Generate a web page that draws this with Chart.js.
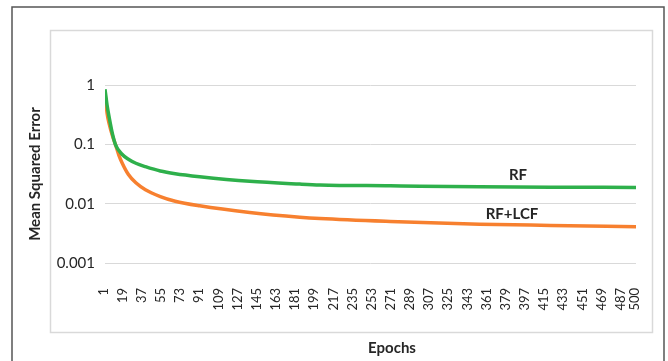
<!DOCTYPE html>
<html>
<head>
<meta charset="utf-8">
<script src="https://cdn.jsdelivr.net/npm/chart.js@4.4.1/dist/chart.umd.min.js"></script>
<style>
    html, body { margin: 0; padding: 0; background: #fff; }
    #wrap { width: 668px; height: 361px; }
</style>
</head>
<body>
<div id="wrap"><canvas id="mse-chart" width="668" height="361"></canvas></div>
<script>
// x tick labels (epochs) and y ticks (log scale)
const epochTicks = [1, 19, 37, 55, 73, 91, 109, 127, 145, 163, 181, 199, 217, 235, 253,
    271, 289, 307, 325, 343, 361, 379, 397, 415, 433, 451, 469, 487, 500];
const yTicks = [0.001, 0.01, 0.1, 1];

// RF series
const rfEpochs = [1, 3, 5, 8, 11, 17, 23, 30, 39, 53, 67, 90, 137, 184, 203, 269, 297, 353, 420, 500];
const rfValues = [0.85, 0.45, 0.28, 0.15, 0.097, 0.068, 0.056, 0.048, 0.042, 0.0355, 0.032, 0.0285,
    0.0238, 0.0214, 0.0207, 0.0200, 0.0197, 0.0193, 0.0190, 0.0188];

// RF+LCF series
const lcfEpochs = [1, 3, 5, 8, 11, 14, 17, 23, 30, 39, 53, 67, 90, 137, 184, 203, 269, 353, 420, 500];
const lcfValues = [0.72, 0.33, 0.22, 0.14, 0.097, 0.066, 0.049, 0.031, 0.0225, 0.0172, 0.0132, 0.011,
    0.0092, 0.0071, 0.0059, 0.0056, 0.0050, 0.0045, 0.0043, 0.0041];

const FONT = 'Lato, "Open Sans", sans-serif';
const TEXT = '#262626';

function toPoints(xs, ys) {
    return xs.map((x, i) => ({ x: x, y: ys[i] }));
}

const framePlugin = {
    id: 'frames',
    beforeDraw: (chart) => {
        const ctx = chart.ctx;
        ctx.save();
        ctx.fillStyle = '#fff';
        ctx.fillRect(0, 0, chart.width, chart.height);
        // outer border
        ctx.strokeStyle = '#555';
        ctx.lineWidth = 1.5;
        ctx.beginPath();
        ctx.moveTo(12, 370);
        ctx.lineTo(12, 7);
        ctx.lineTo(664, 7);
        ctx.lineTo(664, 370);
        ctx.stroke();
        // inner chart box
        ctx.strokeStyle = '#d9d9d9';
        ctx.lineWidth = 1.5;
        ctx.strokeRect(50.5, 30.5, 602, 302);
        ctx.restore();
    },
    afterDraw: (chart) => {
        const ctx = chart.ctx;
        const x = chart.scales.x;
        ctx.save();
        ctx.fillStyle = TEXT;
        ctx.font = '13px ' + FONT;
        ctx.textAlign = 'right';
        ctx.textBaseline = 'middle';
        epochTicks.forEach(v => {
            ctx.save();
            ctx.translate(x.getPixelForValue(v) - 1.5, 288);
            ctx.rotate(-Math.PI / 2);
            ctx.fillText(String(v), 0, 0);
            ctx.restore();
        });
        ctx.textAlign = 'center';
        ctx.font = 'bold 15px ' + FONT;
        ctx.fillText('Epochs', 392, 348);
        ctx.fillText('RF', 518, 175);
        ctx.fillText('RF+LCF', 512, 214);
        ctx.restore();
    }
};

new Chart(document.getElementById('mse-chart'), {
    type: 'line',
    data: {
        datasets: [
            {
                label: 'RF',
                data: toPoints(rfEpochs, rfValues),
                borderColor: '#2eb04b',
                borderWidth: 3.5,
                pointRadius: 0,
                cubicInterpolationMode: 'monotone'
            },
            {
                label: 'RF+LCF',
                data: toPoints(lcfEpochs, lcfValues),
                borderColor: '#f7802f',
                borderWidth: 3.5,
                pointRadius: 0,
                cubicInterpolationMode: 'monotone'
            }
        ]
    },
    options: {
        responsive: false,
        animation: false,
        devicePixelRatio: 1,
        layout: {
            padding: { left: 12, top: 85, right: 32, bottom: 0 }
        },
        plugins: {
            legend: { display: false },
            tooltip: { enabled: false }
        },
        scales: {
            x: {
                type: 'linear',
                min: 1,
                max: 500,
                grid: { display: false },
                border: { display: false },
                ticks: { display: false },
                afterFit: (scale) => { scale.height = 98; }
            },
            y: {
                type: 'logarithmic',
                min: 0.001,
                max: 1,
                afterBuildTicks: (scale) => {
                    scale.ticks = yTicks.map(v => ({ value: v }));
                },
                grid: {
                    color: '#d9d9d9',
                    lineWidth: 1,
                    drawTicks: false
                },
                border: { display: false },
                ticks: {
                    padding: 10,
                    color: TEXT,
                    font: { family: FONT, size: 15 },
                    callback: v => String(v)
                },
                title: {
                    display: true,
                    text: 'Mean Squared Error',
                    color: TEXT,
                    padding: { top: 14, bottom: 0 },
                    font: { family: FONT, size: 15, weight: 'bold' }
                },
                afterFit: (scale) => { scale.width = 93; }
            }
        }
    },
    plugins: [framePlugin]
});
</script>
</body>
</html>
